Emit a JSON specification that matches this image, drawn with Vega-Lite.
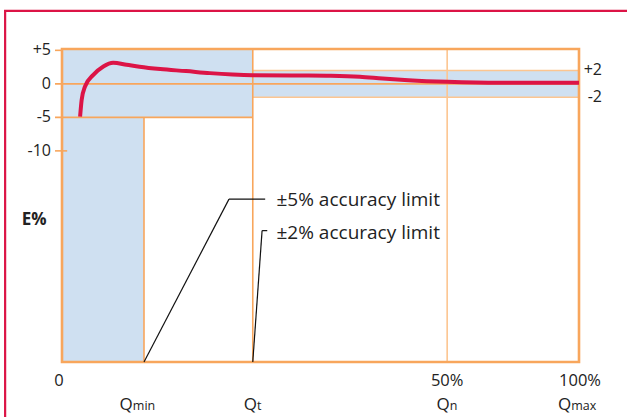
{
  "$schema": "https://vega.github.io/schema/vega-lite/v6.json",
  "width": 517,
  "height": 313,
  "autosize": {"type": "none"},
  "padding": {"left": 62, "top": 49, "right": 48, "bottom": 55},
  "background": "white",
  "config": {
    "view": {"stroke": null},
    "font": "Open Sans",
    "text": {"font": "Open Sans", "color": "#222222"}
  },
  "datasets": {
    "frame": [{"x": -11, "x2": 140, "y": 10.9, "y2": -80}],
    "zones": [
      {"zone": "±5% upper", "x": 0, "x2": 36.9, "y": 5.2, "y2": -5},
      {"zone": "±5% lower", "x": 0, "x2": 15.86, "y": -5, "y2": -41.5},
      {"zone": "±2%", "x": 36.9, "x2": 100, "y": 2, "y2": -2}
    ],
    "gridlines": [
      {"x": -1.35, "x2": 100, "y": 0, "y2": 0},
      {"x": -1.35, "x2": 36.9, "y": -5, "y2": -5},
      {"x": -1.35, "x2": 0, "y": 5, "y2": 5},
      {"x": -1.35, "x2": 1, "y": -10, "y2": -10},
      {"x": 15.86, "x2": 15.86, "y": -5, "y2": -41.5},
      {"x": 36.9, "x2": 36.9, "y": 5.2, "y2": -41.5}
    ],
    "lightlines": [
      {"x": 36.9, "x2": 100, "y": 2, "y2": 2},
      {"x": 36.9, "x2": 100, "y": -2, "y2": -2},
      {"x": 74.5, "x2": 74.5, "y": 5.2, "y2": -41.5}
    ],
    "plotbox": [{"x": 0, "x2": 100, "y": 5.2, "y2": -41.5}],
    "leaders": [
      {"x": 15.86, "x2": 32.3, "y": -41.5, "y2": -17.2},
      {"x": 32.3, "x2": 39.3, "y": -17.2, "y2": -17.2},
      {"x": 36.9, "x2": 38.7, "y": -41.5, "y2": -21.9},
      {"x": 38.7, "x2": 39.7, "y": -21.9, "y2": -21.9}
    ],
    "curve": [
      {"x": 3.5, "y": -4.9},
      {"x": 3.8, "y": -2.4},
      {"x": 4.45, "y": -0.4},
      {"x": 6.06, "y": 1.34},
      {"x": 8, "y": 2.6},
      {"x": 9.9, "y": 3.15},
      {"x": 12.5, "y": 2.85},
      {"x": 15, "y": 2.55},
      {"x": 19, "y": 2.2},
      {"x": 24, "y": 1.9},
      {"x": 28.6, "y": 1.6},
      {"x": 33, "y": 1.4},
      {"x": 36.9, "y": 1.3},
      {"x": 46, "y": 1.25},
      {"x": 52, "y": 1.2},
      {"x": 57.6, "y": 1.05},
      {"x": 62, "y": 0.8},
      {"x": 67, "y": 0.55},
      {"x": 74.5, "y": 0.3},
      {"x": 84.7, "y": 0.15},
      {"x": 100, "y": 0.15}
    ],
    "notes": [
      {"x": 73.1, "y": -17.3, "text": "±5% accuracy limit"},
      {"x": 73.1, "y": -22.2, "text": "±2% accuracy limit"}
    ],
    "ylabels": [
      {"x": 0, "y": 5, "text": "+5"},
      {"x": 0, "y": 0, "text": "0"},
      {"x": 0, "y": -5, "text": "-5"},
      {"x": 0, "y": -10, "text": "-10"}
    ],
    "ytitle": [{"x": -5.4, "y": -20.3, "text": "E%"}],
    "rightlabels": [
      {"x": 100, "y": 2, "text": "+2"},
      {"x": 100, "y": -2, "text": "-2"}
    ],
    "xlabels": [
      {"x": -0.6, "y": -45.1, "text": "0"},
      {"x": 74.5, "y": -45.1, "text": "50%"},
      {"x": 100.2, "y": -45.1, "text": "100%"}
    ],
    "qlabels": [
      {"x": 13.7, "y": -48.7, "main": "Q", "sub": "min"},
      {"x": 37.7, "y": -48.7, "main": "Q", "sub": "t"},
      {"x": 75.0, "y": -48.7, "main": "Q", "sub": "n"},
      {"x": 98.5, "y": -48.7, "main": "Q", "sub": "max"}
    ]
  },
  "layer": [
    {
      "data": {"name": "frame"},
      "mark": {"type": "rect", "fill": null, "stroke": "#dc1446", "strokeWidth": 2.2},
      "encoding": {
        "x": {"field": "x", "type": "quantitative", "scale": {"domain": [0, 100], "nice": false, "zero": false}, "axis": null},
        "x2": {"field": "x2"},
        "y": {"field": "y", "type": "quantitative", "scale": {"domain": [-41.5, 5.2], "nice": false, "zero": false}, "axis": null},
        "y2": {"field": "y2"}
      }
    },
    {
      "data": {"name": "zones"},
      "mark": {"type": "rect", "fill": "#cfe0f1", "stroke": null},
      "encoding": {
        "x": {"field": "x", "type": "quantitative", "axis": null},
        "x2": {"field": "x2"},
        "y": {"field": "y", "type": "quantitative", "axis": null},
        "y2": {"field": "y2"}
      }
    },
    {
      "data": {"name": "lightlines"},
      "mark": {"type": "rule", "stroke": "#fcc591", "strokeWidth": 1.6},
      "encoding": {
        "x": {"field": "x", "type": "quantitative", "axis": null},
        "x2": {"field": "x2"},
        "y": {"field": "y", "type": "quantitative", "axis": null},
        "y2": {"field": "y2"}
      }
    },
    {
      "data": {"name": "gridlines"},
      "mark": {"type": "rule", "stroke": "#f8a65c", "strokeWidth": 1.6},
      "encoding": {
        "x": {"field": "x", "type": "quantitative", "axis": null},
        "x2": {"field": "x2"},
        "y": {"field": "y", "type": "quantitative", "axis": null},
        "y2": {"field": "y2"}
      }
    },
    {
      "data": {"name": "plotbox"},
      "mark": {"type": "rect", "fill": null, "stroke": "#f8a65c", "strokeWidth": 2.6},
      "encoding": {
        "x": {"field": "x", "type": "quantitative", "axis": null},
        "x2": {"field": "x2"},
        "y": {"field": "y", "type": "quantitative", "axis": null},
        "y2": {"field": "y2"}
      }
    },
    {
      "data": {"name": "leaders"},
      "mark": {"type": "rule", "stroke": "#111111", "strokeWidth": 1.2},
      "encoding": {
        "x": {"field": "x", "type": "quantitative", "axis": null},
        "x2": {"field": "x2"},
        "y": {"field": "y", "type": "quantitative", "axis": null},
        "y2": {"field": "y2"}
      }
    },
    {
      "data": {"name": "curve"},
      "mark": {"type": "line", "stroke": "#dc1446", "strokeWidth": 4, "interpolate": "monotone", "strokeCap": "butt"},
      "encoding": {
        "x": {"field": "x", "type": "quantitative", "axis": null},
        "y": {"field": "y", "type": "quantitative", "axis": null}
      }
    },
    {
      "data": {"name": "notes"},
      "mark": {"type": "text", "align": "right", "baseline": "middle", "fontSize": 19},
      "encoding": {
        "x": {"field": "x", "type": "quantitative", "axis": null},
        "y": {"field": "y", "type": "quantitative", "axis": null},
        "text": {"field": "text"}
      }
    },
    {
      "data": {"name": "ylabels"},
      "mark": {"type": "text", "align": "right", "baseline": "middle", "fontSize": 16, "dx": -11},
      "encoding": {
        "x": {"field": "x", "type": "quantitative", "axis": null},
        "y": {"field": "y", "type": "quantitative", "axis": null},
        "text": {"field": "text"}
      }
    },
    {
      "data": {"name": "ytitle"},
      "mark": {"type": "text", "align": "center", "baseline": "middle", "fontSize": 17, "fontWeight": "bold"},
      "encoding": {
        "x": {"field": "x", "type": "quantitative", "axis": null},
        "y": {"field": "y", "type": "quantitative", "axis": null},
        "text": {"field": "text"}
      }
    },
    {
      "data": {"name": "rightlabels"},
      "mark": {"type": "text", "align": "right", "baseline": "middle", "fontSize": 16, "dx": 23},
      "encoding": {
        "x": {"field": "x", "type": "quantitative", "axis": null},
        "y": {"field": "y", "type": "quantitative", "axis": null},
        "text": {"field": "text"}
      }
    },
    {
      "data": {"name": "xlabels"},
      "mark": {"type": "text", "align": "center", "baseline": "alphabetic", "fontSize": 16.5},
      "encoding": {
        "x": {"field": "x", "type": "quantitative", "axis": null},
        "y": {"field": "y", "type": "quantitative", "axis": null},
        "text": {"field": "text"}
      }
    },
    {
      "data": {"name": "qlabels"},
      "mark": {"type": "text", "align": "right", "baseline": "alphabetic", "fontSize": 17},
      "encoding": {
        "x": {"field": "x", "type": "quantitative", "axis": null},
        "y": {"field": "y", "type": "quantitative", "axis": null},
        "text": {"field": "main"}
      }
    },
    {
      "data": {"name": "qlabels"},
      "mark": {"type": "text", "align": "left", "baseline": "alphabetic", "fontSize": 12.5},
      "encoding": {
        "x": {"field": "x", "type": "quantitative", "axis": null},
        "y": {"field": "y", "type": "quantitative", "axis": null},
        "text": {"field": "sub"}
      }
    }
  ]
}
